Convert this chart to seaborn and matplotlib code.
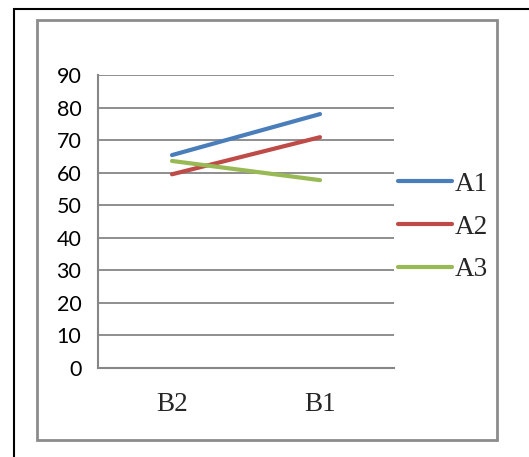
import matplotlib
matplotlib.use("Agg")
import matplotlib.pyplot as plt
import seaborn as sns
import pandas as pd
from matplotlib.patches import Rectangle

categories = ["B2", "B1"]
series_names = ["A1", "A2", "A3"]
a1 = [65.4, 78.0]
a2 = [59.5, 70.9]
a3 = [63.6, 57.7]
y_ticks = [0, 10, 20, 30, 40, 50, 60, 70, 80, 90]
colors = ["#4A7EBB", "#BE4B48", "#98B954"]

rows = []
for name, vals in zip(series_names, [a1, a2, a3]):
    for i, (c, v) in enumerate(zip(categories, vals)):
        rows.append({"pos": i, "cat": c, "series": name, "value": v})
df = pd.DataFrame(rows)

sns.set_style("white")
W, H = 529, 457
fig = plt.figure(figsize=(W / 100, H / 100), dpi=100)

# borders
fig.patches.append(Rectangle((14 / W, -0.1), 1.2, (H - 9) / H + 0.1, transform=fig.transFigure,
                             fill=False, edgecolor="black", linewidth=1.5, zorder=0))
fig.patches.append(Rectangle((37 / W, (H - 440) / H), (497 - 37) / W, (440 - 20) / H,
                             transform=fig.transFigure, fill=False, edgecolor="#8C8C8C",
                             linewidth=2.0, zorder=0))

ax = fig.add_axes([98 / W, (H - 368) / H, (394 - 98) / W, (368 - 75) / H])
sns.lineplot(data=df, x="pos", y="value", hue="series", palette=colors,
             linewidth=3.0, ax=ax, legend=True, solid_capstyle="round")

grid_c = "#868686"
ax.set_xlim(-0.5, 1.5)
ax.set_ylim(0, 90)
ax.set_yticks(y_ticks)
ax.set_yticklabels([str(t) for t in y_ticks], fontfamily="Lato", fontsize=15.5)
ax.set_xticks([-0.5, 0.5, 1.5])
ax.set_xticklabels([])
ax.set_xticks([0, 1], minor=True)
ax.set_xticklabels(categories, minor=True, fontfamily="Liberation Serif", fontsize=19.5)
ax.tick_params(axis="x", which="minor", length=0, pad=17)
ax.tick_params(axis="x", which="major", length=6, width=1.5, color=grid_c, direction="out")
ax.tick_params(axis="y", length=6, width=1.5, color=grid_c, direction="out", pad=6, labelcolor="black")
ax.yaxis.grid(True, color=grid_c, linewidth=1.3)
ax.set_axisbelow(True)
for s in ["top", "right"]:
    ax.spines[s].set_visible(False)
for s in ["left", "bottom"]:
    ax.spines[s].set_color(grid_c)
    ax.spines[s].set_linewidth(1.5)
ax.set_xlabel("")
ax.set_ylabel("")

leg = ax.legend(loc="center left", bbox_to_anchor=(398 / W, (H - 227) / H),
                bbox_transform=fig.transFigure, frameon=False,
                prop={"family": "Liberation Serif", "size": 19.5},
                handlelength=2.0, handletextpad=0.1, labelspacing=0.66, borderpad=0,
                borderaxespad=0)
for line in leg.get_lines():
    line.set_linewidth(3.0)
    line.set_solid_capstyle("round")

fig.savefig("out.png", dpi=100)
